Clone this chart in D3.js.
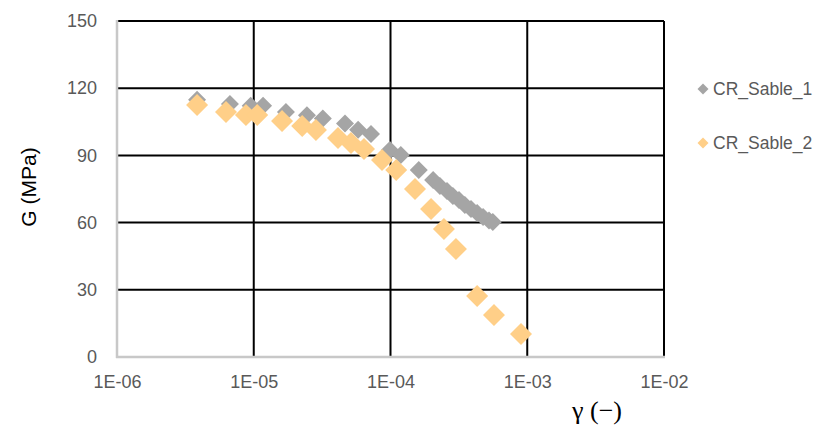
<!DOCTYPE html>
<html>
<head>
<meta charset="utf-8">
<script src="https://cdn.jsdelivr.net/npm/d3@7"></script>
<style>
  html, body { margin: 0; padding: 0; background: #fff; }
  svg { display: block; }
</style>
</head>
<body>
<svg id="chart" width="818" height="426"></svg>
<script>
// ---- data ----
const seriesNames = ["CR_Sable_1", "CR_Sable_2"];
const sable1Strain = [3.85e-6, 6.7e-6, 9.5e-6, 1.17e-5, 1.72e-5, 2.45e-5, 3.2e-5, 4.65e-5, 5.8e-5, 7.2e-5,
  9.9e-5, 1.19e-4, 1.61e-4, 2.05e-4, 2.3e-4, 2.59e-4, 2.86e-4, 3.17e-4, 3.5e-4, 3.88e-4, 4.3e-4, 4.75e-4, 5.25e-4, 5.6e-4];
const sable1G = [114.8, 113.0, 112.2, 112.2, 109.4, 107.9, 106.5, 104.2, 101.5, 99.6,
  92.4, 90.2, 83.5, 79.0, 76.3, 74.1, 71.9, 70.1, 67.9, 66.1, 64.3, 62.5, 60.9, 60.3];
const sable2Strain = [3.85e-6, 6.27e-6, 8.77e-6, 1.06e-5, 1.61e-5, 2.26e-5, 2.85e-5, 4.13e-5, 5.14e-5, 6.4e-5,
  8.67e-5, 1.1e-4, 1.51e-4, 1.98e-4, 2.46e-4, 3.01e-4, 4.3e-4, 5.71e-4, 9.0e-4];
const sable2G = [112.5, 109.4, 108.0, 108.0, 105.4, 103.1, 101.3, 97.8, 95.5, 92.9,
  87.9, 83.5, 75.0, 66.1, 57.1, 48.2, 27.2, 18.75, 10.3];
const xTicks = [1e-6, 1e-5, 1e-4, 1e-3, 1e-2];
const xTickLabels = ["1E-06", "1E-05", "1E-04", "1E-03", "1E-02"];
const yTicks = [0, 30, 60, 90, 120, 150];
const colors = ["#A5A5A5", "#FFCF88"];
const markerDiag = [18, 22];

// ---- layout ----
const svg = d3.select("#chart");
const plot = { left: 117, top: 21, right: 664, bottom: 357 };
const x = d3.scaleLog().domain([1e-6, 1e-2]).range([plot.left, plot.right]);
const y = d3.scaleLinear().domain([0, 150]).range([plot.bottom, plot.top]);
const labelFont = "'Liberation Sans', Arial, sans-serif";
const textColor = "#595959";

// gridlines
svg.append("g").selectAll("line").data(yTicks.filter(d => d > 0)).join("line")
  .attr("x1", plot.left).attr("x2", plot.right)
  .attr("y1", d => y(d)).attr("y2", d => y(d))
  .attr("stroke", "#000").attr("stroke-width", 2);
svg.append("g").selectAll("line").data(xTicks.slice(1)).join("line")
  .attr("x1", d => x(d)).attr("x2", d => x(d))
  .attr("y1", plot.top).attr("y2", plot.bottom)
  .attr("stroke", "#000").attr("stroke-width", 2);

// axes lines (grey)
svg.append("line").attr("x1", plot.left).attr("x2", plot.left)
  .attr("y1", plot.top - 1).attr("y2", plot.bottom + 1)
  .attr("stroke", "#C8C8C8").attr("stroke-width", 2.5);
svg.append("line").attr("x1", plot.left - 1).attr("x2", plot.right + 1)
  .attr("y1", plot.bottom).attr("y2", plot.bottom)
  .attr("stroke", "#C8C8C8").attr("stroke-width", 2.5);

// y tick labels
const yAxis = d3.axisLeft(y).tickValues(yTicks).tickSize(0).tickPadding(20);
const gy = svg.append("g").attr("transform", `translate(${plot.left},0)`).call(yAxis);
gy.select(".domain").remove();
gy.selectAll("text").attr("font-family", labelFont).attr("font-size", 18).attr("fill", textColor);

// x tick labels
const xAxis = d3.axisBottom(x).tickValues(xTicks).tickFormat((d, i) => xTickLabels[i]).tickSize(0).tickPadding(18);
const gx = svg.append("g").attr("transform", `translate(0,${plot.bottom})`).call(xAxis);
gx.select(".domain").remove();
gx.selectAll("text").attr("font-family", labelFont).attr("font-size", 18).attr("fill", textColor);

// diamond path
function diamond(d) {
  const h = d / 2;
  return `M0,${-h}L${h},0L0,${h}L${-h},0Z`;
}

const series = [
  { name: seriesNames[0], xs: sable1Strain, ys: sable1G },
  { name: seriesNames[1], xs: sable2Strain, ys: sable2G }
];
series.forEach((s, si) => {
  const pts = s.xs.map((v, i) => [v, s.ys[i]]);
  svg.append("g").selectAll("path").data(pts).join("path")
    .attr("d", diamond(markerDiag[si]))
    .attr("transform", d => `translate(${x(d[0])},${y(d[1])})`)
    .attr("fill", colors[si]);
});

// legend
const legend = svg.append("g");
series.forEach((s, si) => {
  const ly = 89 + si * 54;
  legend.append("path").attr("d", diamond(11)).attr("transform", `translate(703,${ly})`).attr("fill", colors[si]);
  legend.append("text").attr("x", 713).attr("y", ly + 6)
    .attr("font-family", labelFont).attr("font-size", 17.5).attr("fill", textColor).text(s.name);
});

// axis titles
svg.append("text").attr("transform", "translate(36,187) rotate(-90)")
  .attr("text-anchor", "middle").attr("font-family", labelFont).attr("font-size", 21)
  .attr("fill", "#000").text("G (MPa)");
svg.append("text").attr("x", 597).attr("y", 419)
  .attr("text-anchor", "middle").attr("font-family", "'Liberation Serif', 'DejaVu Serif', serif").attr("font-size", 26)
  .attr("fill", "#000").text("γ (−)");
</script>
</body>
</html>
